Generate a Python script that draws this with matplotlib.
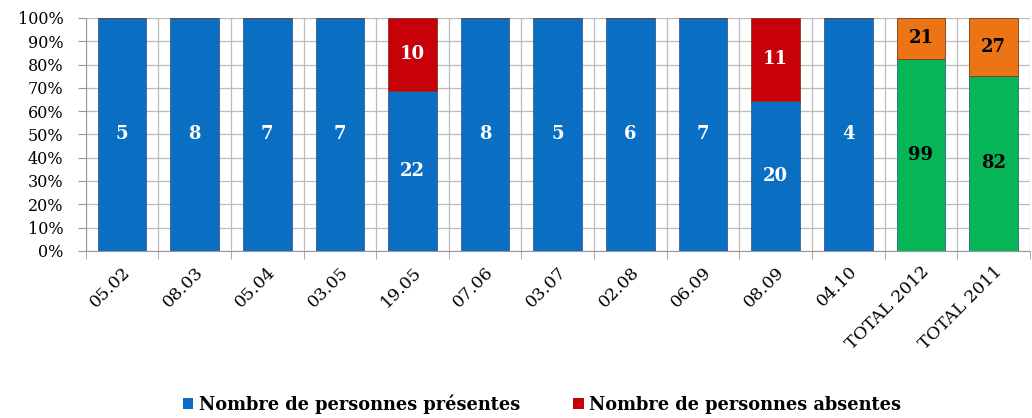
"""Attendance per session, 100% stacked bars."""

import numpy as np
import matplotlib.pyplot as plt
from matplotlib.patches import Patch

dates = ['05.02', '08.03', '05.04', '03.05', '19.05', '07.06', '03.07',
         '02.08', '06.09', '08.09', '04.10', 'TOTAL 2012', 'TOTAL 2011']
presentes = np.array([5, 8, 7, 7, 22, 8, 5, 6, 7, 20, 4, 99, 82])
absentes = np.array([0, 0, 0, 0, 10, 0, 0, 0, 0, 11, 0, 21, 27])

total = presentes + absentes
p_pct = presentes / total * 100
a_pct = absentes / total * 100

blue, red, green, orange = '#0A6FC2', '#C8000A', '#06B656', '#EC7414'
n_total = 2
c_pres = [blue] * (len(dates) - n_total) + [green] * n_total
c_abs = [red] * (len(dates) - n_total) + [orange] * n_total
t_col = ['white'] * (len(dates) - n_total) + ['black'] * n_total

plt.rcParams['font.family'] = ['DejaVu Serif']

fig, ax = plt.subplots(figsize=(10.32, 4.18), dpi=100)
fig.subplots_adjust(left=0.083, right=0.998, top=0.957, bottom=0.4)

x = np.arange(len(dates))
w = 0.67
ax.bar(x, p_pct, w, color=c_pres, edgecolor='#3a5f8a', linewidth=0.6, zorder=3)
ax.bar(x, a_pct, w, bottom=p_pct, color=c_abs, edgecolor='#7a3a20', linewidth=0.6, zorder=3)

for i in x:
    ax.text(i, p_pct[i] / 2, str(presentes[i]), ha='center', va='center',
            color=t_col[i], fontsize=13, fontweight='bold', zorder=4)
    if absentes[i]:
        ax.text(i, p_pct[i] + a_pct[i] / 2, str(absentes[i]), ha='center', va='center',
                color=t_col[i], fontsize=13, fontweight='bold', zorder=4)

ax.set_xlim(-0.5, len(dates) - 0.5)
ax.set_ylim(0, 100)
ax.set_yticks(np.arange(0, 101, 10))
ax.set_yticklabels([f'{v}%' for v in range(0, 101, 10)], fontsize=11.5)
ax.set_xticks(x)
ax.set_xticklabels(dates, rotation=45, ha='right', rotation_mode='anchor', fontsize=12.5)
ax.tick_params(axis='x', length=0, pad=9)
ax.tick_params(axis='y', length=6, color='#999999', pad=10)

ax.set_xticks(np.arange(-0.5, len(dates)), minor=True)
ax.tick_params(axis='x', which='minor', length=6, color='#999999')
ax.grid(axis='y', color='#BBBBBB', linewidth=0.9, zorder=0)
ax.grid(axis='x', which='minor', color='#BBBBBB', linewidth=0.9, zorder=0)
for s in ['top', 'right']:
    ax.spines[s].set_visible(False)
ax.spines['left'].set_color('#999999')
ax.spines['bottom'].set_color('#999999')

handles = [Patch(facecolor=blue, label='Nombre de personnes présentes'),
           Patch(facecolor=red, label='Nombre de personnes absentes')]
fig.legend(handles=handles, loc='lower center', ncol=2, frameon=False,
           prop={'size': 12.8, 'weight': 'bold'}, bbox_to_anchor=(0.525, -0.028),
           handlelength=0.6, handleheight=0.6, handletextpad=0.3, columnspacing=3)

fig.savefig('out.png')
